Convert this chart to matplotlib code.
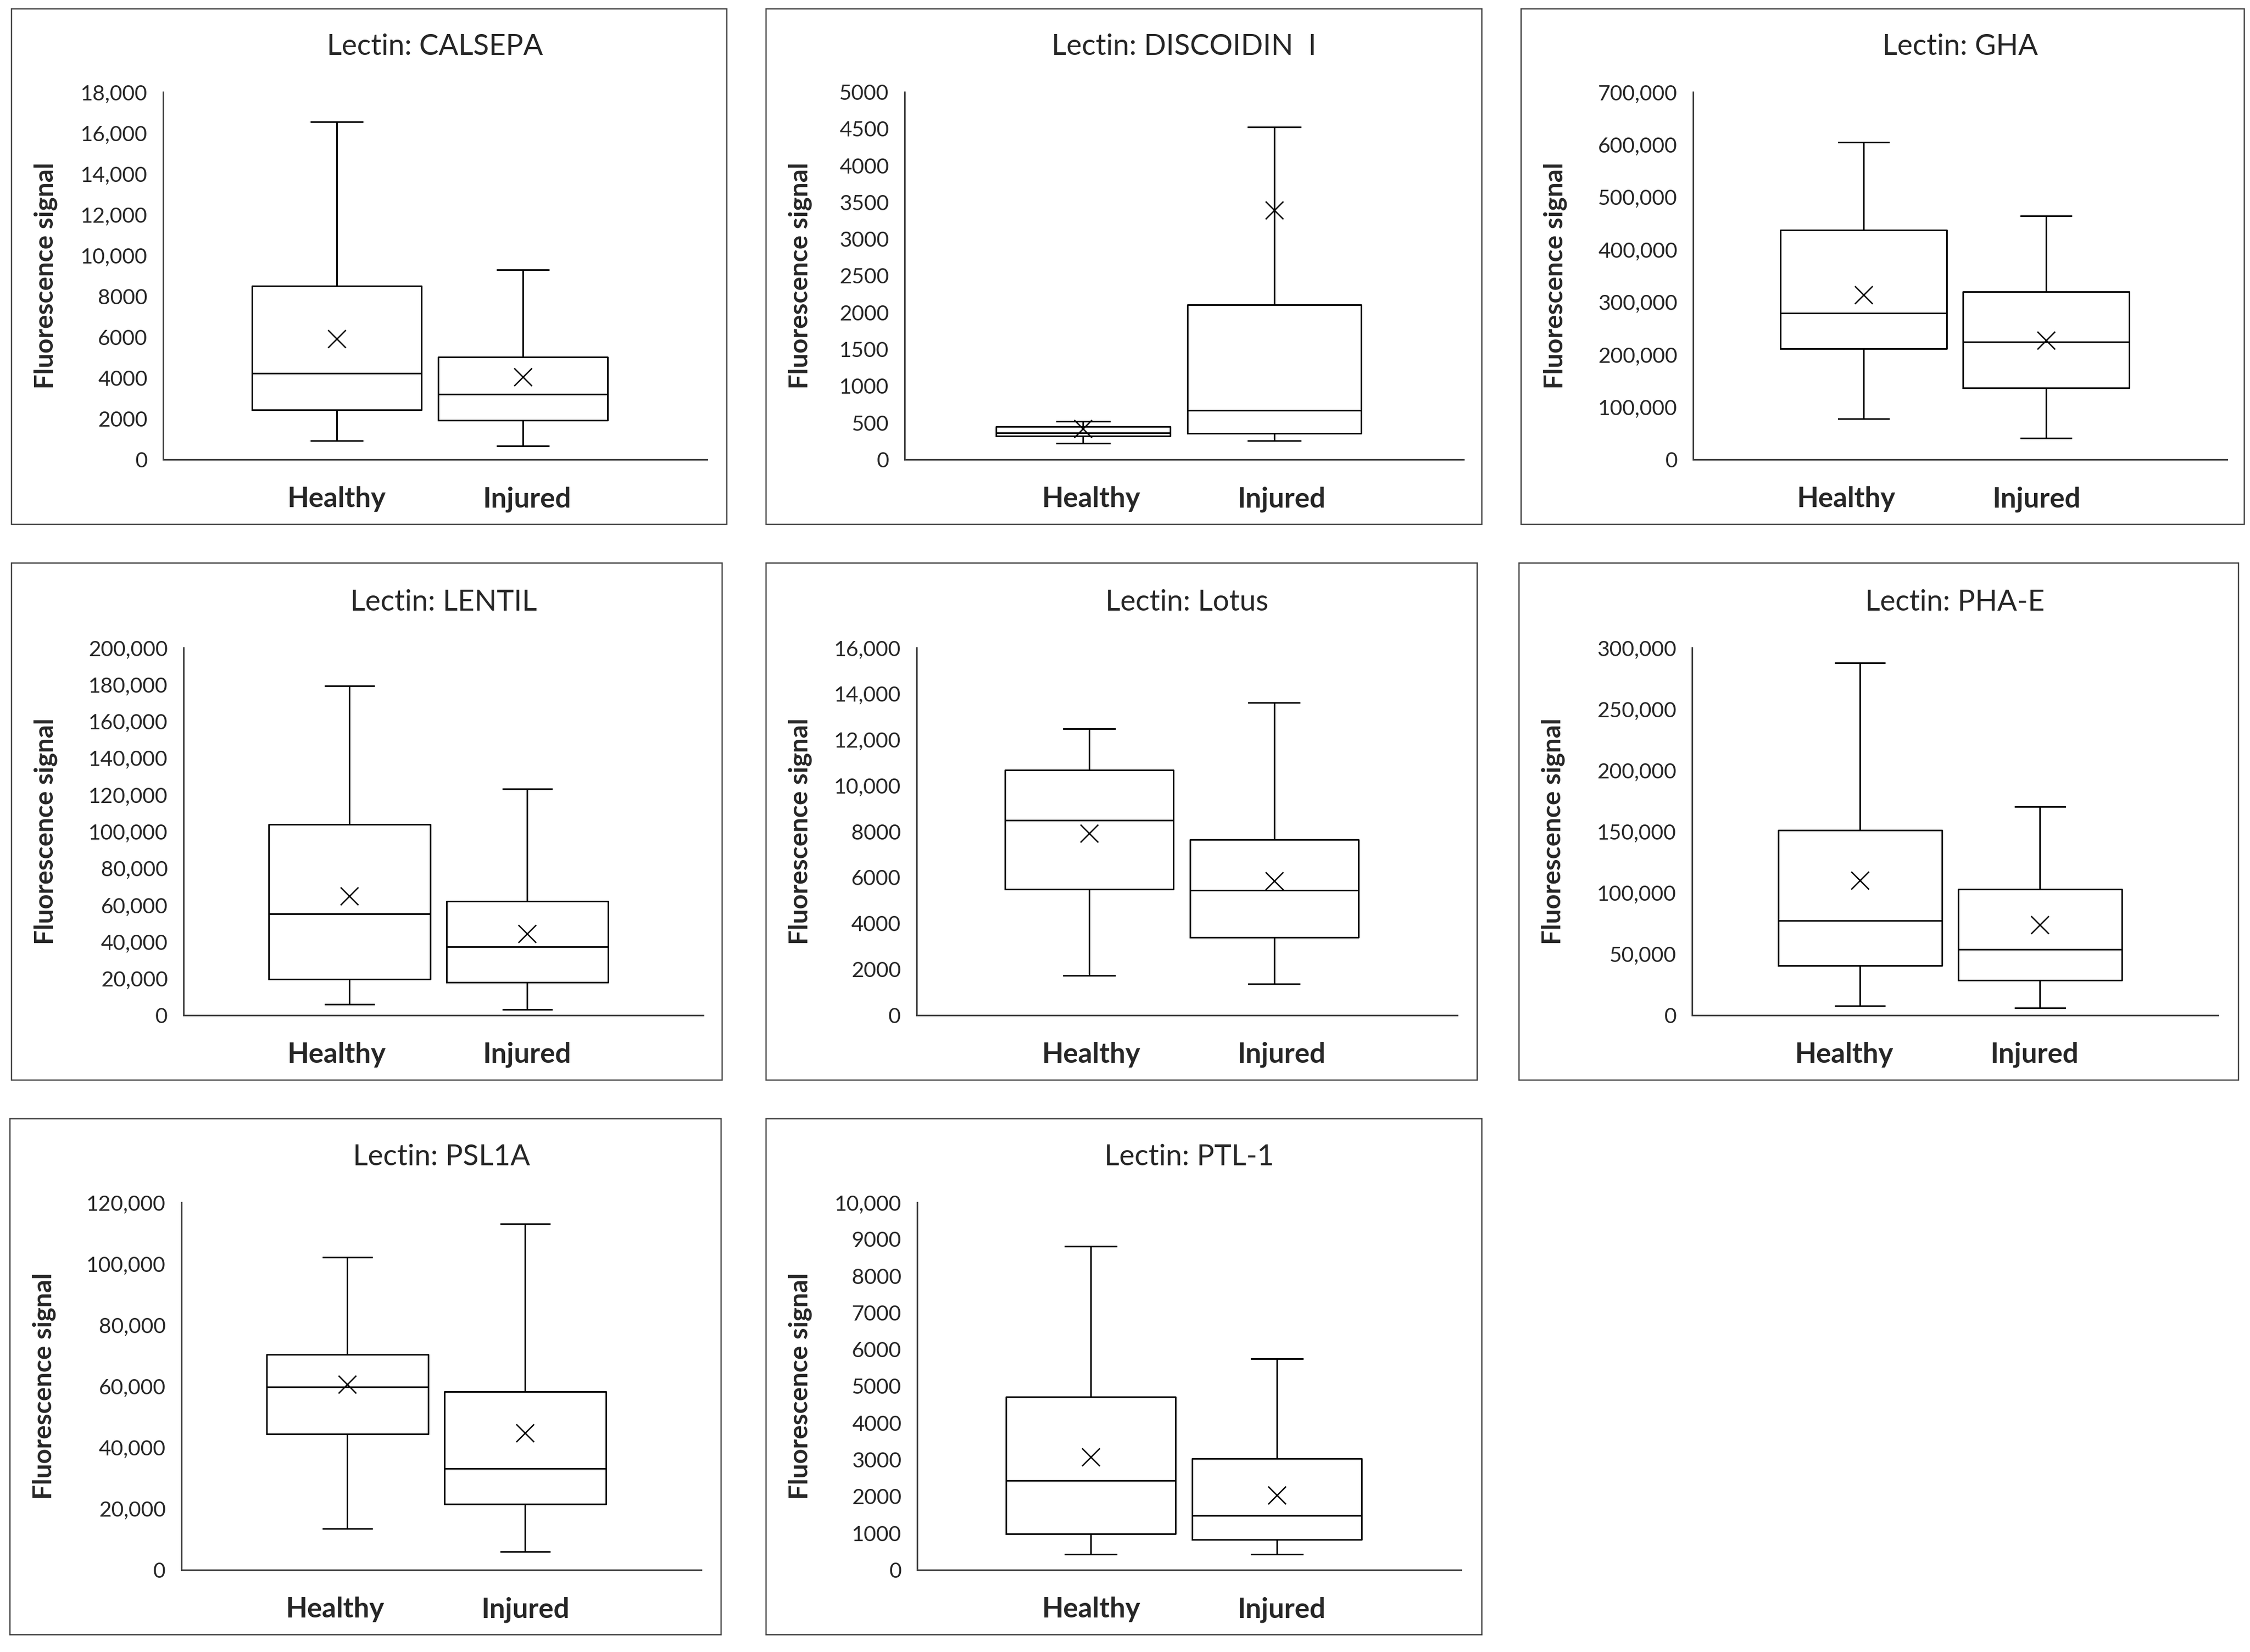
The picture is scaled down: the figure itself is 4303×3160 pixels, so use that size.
import matplotlib
matplotlib.use("Agg")
import matplotlib.pyplot as plt
from matplotlib.patches import Rectangle
from matplotlib.ticker import FuncFormatter, MultipleLocator

plt.rcParams['font.family'] = ['Lato', 'DejaVu Sans']

# ---------------- data ----------------
titles = ["Lectin: CALSEPA", "Lectin: DISCOIDIN  I", "Lectin: GHA",
          "Lectin: LENTIL", "Lectin: Lotus", "Lectin: PHA-E",
          "Lectin: PSL1A", "Lectin: PTL-1"]
groups = ["Healthy", "Injured"]
y_max = [18000, 5000, 700000, 200000, 16000, 300000, 120000, 10000]
y_step = [2000, 500, 100000, 20000, 2000, 50000, 20000, 1000]
y_label = "Fluorescence signal"

healthy_whislo = [920, 224, 78000, 5900, 1720, 7800, 13500, 425]
healthy_q1 = [2420, 321, 211000, 19500, 5490, 40400, 44300, 983]
healthy_med = [4220, 366, 279000, 55300, 8490, 77100, 59700, 2430]
healthy_q3 = [8500, 448, 437000, 103700, 10680, 151100, 70300, 4707]
healthy_whishi = [16550, 519, 604000, 179200, 12480, 287500, 102100, 8810]
healthy_mean = [5920, 420, 314000, 64900, 7910, 109900, 60600, 3072]

injured_whislo = [670, 259, 41000, 3000, 1365, 5800, 5900, 425]
injured_q1 = [1930, 355, 136000, 18000, 3400, 28400, 21500, 822]
injured_med = [3200, 670, 224000, 37300, 5430, 53700, 33100, 1474]
injured_q3 = [5020, 2106, 320000, 62000, 7640, 103000, 58200, 3025]
injured_whishi = [9300, 4523, 464000, 123200, 13600, 170100, 113000, 5747]
injured_mean = [4050, 3394, 227000, 44500, 5860, 73800, 44700, 2032]

# ---------------- layout (pixels) ----------------
W, H = 4303, 3160
frames = [(22, 17, 1390, 1003), (1465, 17, 2834, 1003), (2909, 17, 4292, 1003),
          (22, 1077, 1381, 2066), (1465, 1077, 2825, 2066), (2905, 1077, 4281, 2066),
          (19, 2140, 1379, 3127), (1465, 2140, 2834, 3127)]
axes_x = [(312, 1352), (1730, 2799), (3238, 4259),
          (351, 1345), (1753, 2787), (3236, 4242),
          (347, 1341), (1754, 2794)]
rows_y = [(176, 879), (1239, 1942), (2300, 3003)]
panel_row = [0, 0, 0, 1, 1, 1, 2, 2]
label_dx = [622, 986]   # category label centres, px from frame left

PX = 72.0 / 100.0  # points per pixel at dpi 100
TXT = '#262626'
LINE = '#404040'

fig = plt.figure(figsize=(W / 100, H / 100), dpi=100)
fig.patch.set_facecolor('white')


def fmt(v, pos):
    v = int(round(v))
    return f"{v:,}" if v >= 10000 else f"{v}"


for i in range(len(titles)):
    fx0, fy0, fx1, fy1 = frames[i]
    fig.patches.append(Rectangle((fx0 / W, 1 - fy1 / H), (fx1 - fx0) / W, (fy1 - fy0) / H,
                                 transform=fig.transFigure, fill=False,
                                 edgecolor=LINE, linewidth=2.5 * PX, zorder=0))
    ax0, ax1 = axes_x[i]
    yt, yb = rows_y[panel_row[i]]
    ax = fig.add_axes([ax0 / W, 1 - yb / H, (ax1 - ax0) / W, (yb - yt) / H])
    ax.set_facecolor('none')

    stats = [
        dict(whislo=healthy_whislo[i], q1=healthy_q1[i], med=healthy_med[i],
             q3=healthy_q3[i], whishi=healthy_whishi[i], mean=healthy_mean[i], fliers=[]),
        dict(whislo=injured_whislo[i], q1=injured_q1[i], med=injured_med[i],
             q3=injured_q3[i], whishi=injured_whishi[i], mean=injured_mean[i], fliers=[]),
    ]
    lw = 3 * PX
    ax.bxp(stats, positions=[1, 2], widths=0.91, capwidths=0.275,
           showmeans=True, showfliers=False, manage_ticks=False,
           boxprops=dict(color='black', linewidth=lw),
           medianprops=dict(color='black', linewidth=lw),
           whiskerprops=dict(color='black', linewidth=lw),
           capprops=dict(color='black', linewidth=lw),
           meanprops=dict(marker='x', markersize=25, markeredgewidth=1.9,
                          markeredgecolor='black', markerfacecolor='black',
                          linestyle='none'))

    ax.set_xlim(0.067, 2.99)
    ax.set_ylim(0, y_max[i])
    ax.yaxis.set_major_locator(MultipleLocator(y_step[i]))
    ax.yaxis.set_major_formatter(FuncFormatter(fmt))
    ax.set_xticks([])
    ax.tick_params(axis='y', length=0, pad=30 * PX, labelsize=29.5, labelcolor=TXT)
    for s in ['top', 'right']:
        ax.spines[s].set_visible(False)
    for s in ['left', 'bottom']:
        ax.spines[s].set_color(LINE)
        ax.spines[s].set_linewidth(3 * PX)

    # title
    ax.annotate(titles[i], xy=(0.5, 1), xycoords='axes fraction',
                xytext=(0, 71 * PX), textcoords='offset points',
                ha='center', va='baseline', fontsize=40, color=TXT)
    # category labels
    base_y = yb + 91
    for dx, g in zip(label_dx, groups):
        fig.text((fx0 + dx) / W, 1 - base_y / H, g,
                 ha='center', va='baseline', fontsize=38.5, fontweight='bold', color=TXT)
    # y label
    fig.text((fx0 + 65) / W, 1 - ((yt + yb) / 2) / H, y_label, rotation=90,
             ha='center', va='center', fontsize=36, fontweight='bold', color=TXT)

fig.savefig('out.png', dpi=100, facecolor='white')
